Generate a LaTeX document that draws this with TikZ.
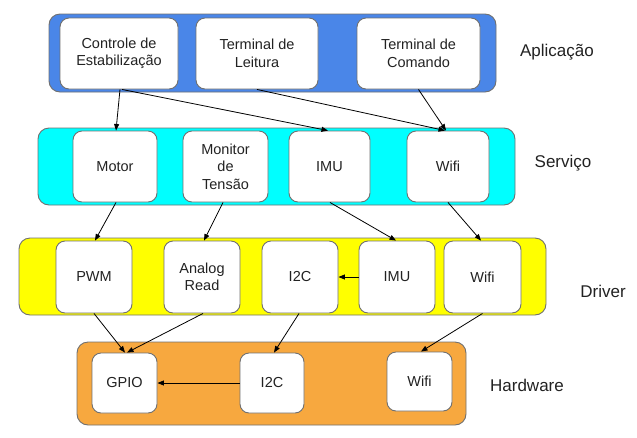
\documentclass[tikz,border=0pt]{standalone}
\usepackage{fontspec}
\setmainfont{Liberation Sans}
\usetikzlibrary{arrows.meta,calc}
\definecolor{appblue}{HTML}{4A86E8}
\definecolor{servcyan}{HTML}{00FFFF}
\definecolor{drvyellow}{HTML}{FFFF00}
\definecolor{hworange}{HTML}{F7A83F}
\definecolor{edgegray}{HTML}{707070}
\definecolor{txt}{HTML}{222222}
\begin{document}
\begin{tikzpicture}[x=1pt,y=-1pt,
  layer/.style={draw=edgegray,line width=0.9pt,rounded corners=11pt,inner sep=0pt},
  box/.style={draw=edgegray,line width=0.9pt,fill=white,rounded corners=9pt,inner sep=1pt,
    align=center,text=txt,font=\fontsize{14.5}{17.5}\selectfont},
  lbl/.style={text=txt,font=\fontsize{17}{20}\selectfont,inner sep=0pt},
  conn/.style={draw=black,line width=0.8pt,-{Triangle[length=6.5pt,width=5pt]}}]
\useasboundingbox (0,0) rectangle (637,437);
% layers
\node[layer,fill=appblue,minimum width=447pt,minimum height=78pt] (app) at (272.5,53) {};
\node[layer,fill=servcyan,minimum width=477pt,minimum height=77pt] (serv) at (276.5,166.5) {};
\node[layer,fill=drvyellow,minimum width=527pt,minimum height=77pt] (drv) at (282.5,276.5) {};
\node[layer,fill=hworange,minimum width=389pt,minimum height=83pt] (hw) at (271.5,383.5) {};
% labels
\node[lbl] (lapp) at (557,52) {Aplicação};
\node[lbl] (lserv) at (563,163) {Serviço};
\node[lbl] (ldrv) at (603,291) {Driver};
\node[lbl] (lhw) at (527,385) {Hardware};
% application
\node[box,minimum width=118pt,minimum height=71pt] (ctrl) at (119,53.5) {Controle de\\Estabilização};
\node[box,minimum width=122pt,minimum height=71pt] (leit) at (257,53.5) {Terminal de\\Leitura};
\node[box,minimum width=123pt,minimum height=71pt] (com) at (418.5,53.5) {Terminal de\\Comando};
% service
\node[box,minimum width=84pt,minimum height=71pt] (motor) at (115,166.5) {Motor};
\node[box,minimum width=85pt,minimum height=71pt] (mon) at (225.5,166.5) {Monitor\\de\\Tensão};
\node[box,minimum width=81pt,minimum height=71pt] (simu) at (329.5,166.5) {IMU};
\node[box,minimum width=82pt,minimum height=71pt] (swifi) at (448,166.5) {Wifi};
% driver
\node[box,minimum width=76pt,minimum height=72pt] (pwm) at (94,277) {PWM};
\node[box,minimum width=76pt,minimum height=72pt] (ana) at (202,277) {Analog\\Read};
\node[box,minimum width=76pt,minimum height=72pt] (di2c) at (300,277) {I2C};
\node[box,minimum width=76pt,minimum height=72pt] (dimu) at (397,277) {IMU};
\node[box,minimum width=77pt,minimum height=72pt] (dwifi) at (482.5,277) {Wifi};
% hardware
\node[box,minimum width=65pt,minimum height=60pt] (gpio) at (124.5,383) {GPIO};
\node[box,minimum width=64pt,minimum height=60pt] (hi2c) at (272,383) {I2C};
\node[box,minimum width=65pt,minimum height=59pt] (hwifi) at (419.5,381.5) {Wifi};
% connectors
\draw[conn] ([xshift=1pt]ctrl.south) -- ([xshift=1pt]motor.north);
\draw[conn] ([xshift=3pt]ctrl.south) -- ([xshift=-1.5pt]simu.north);
\draw[conn] (leit.south) -- ([xshift=-3pt]swifi.north);
\draw[conn] (com.south) -- ([xshift=-2pt]swifi.north);
\draw[conn] ([xshift=1pt]motor.south) -- ([xshift=1pt]pwm.north);
\draw[conn] ([xshift=-2.5pt]mon.south) -- ([xshift=2pt]ana.north);
\draw[conn] ([xshift=0.5pt]simu.south) -- ([xshift=-1pt]dimu.north);
\draw[conn] (swifi.south) -- ([xshift=-1.5pt]dwifi.north);
\draw[conn] (dimu.west) -- (di2c.east);
\draw[conn] (pwm.south) -- ([xshift=0.5pt]gpio.north);
\draw[conn] ([xshift=1pt]ana.south) -- ([xshift=2.5pt]gpio.north);
\draw[conn] ([xshift=-1pt]di2c.south) -- ([xshift=2pt]hi2c.north);
\draw[conn] (dwifi.south) -- ([xshift=1.5pt]hwifi.north);
\draw[conn] (hi2c.west) -- (gpio.east);
\end{tikzpicture}
\end{document}
